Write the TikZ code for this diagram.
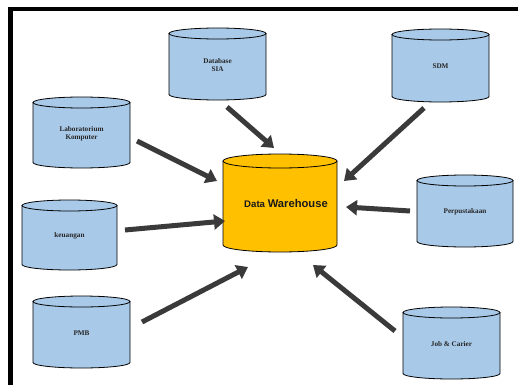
\documentclass[tikz,border=0pt]{standalone}
\usepackage{fontspec}
\setmainfont{Liberation Serif}
\newfontfamily\dwfont{Liberation Sans}
\usetikzlibrary{arrows.meta}
\definecolor{dbblue}{RGB}{168,201,232}
\definecolor{dwgold}{RGB}{255,192,0}
\definecolor{arrowgray}{RGB}{58,58,58}
\tikzset{
  dbtext/.style={font=\fontsize{7.2}{8.4}\selectfont\bfseries, align=center, text=black!85, inner sep=0pt},
  feed/.style={line width=5pt, draw=arrowgray, -{Triangle[length=11pt,width=15pt]}},
  frameline/.style={line width=4.5pt, draw=black},
}
% name, x1, x2, ytop, ybot, fill, ry, text
\newcommand\dbcyl[8]{%
  \pgfmathsetmacro\cylrx{(#3-#2)/2}%
  \fill[#6] (#2,#4+#7) -- (#2,#5-#7) arc[start angle=180,end angle=360,x radius=\cylrx pt,y radius=#7pt] -- (#3,#4+#7) -- cycle;
  \draw[line width=0.8pt] (#2,#4+#7) -- (#2,#5-#7) arc[start angle=180,end angle=360,x radius=\cylrx pt,y radius=#7pt] -- (#3,#4+#7);
  \draw[line width=0.8pt, fill=#6] ({(#2+#3)/2},#4+#7) ellipse[x radius=\cylrx pt, y radius=#7pt];
  \node[dbtext] (#1) at ({(#2+#3)/2},{(#4+#5)/2+1}) {#8};
}
\begin{document}
\begin{tikzpicture}[x=1pt,y=-1pt]
\useasboundingbox (0,0) rectangle (518,385);
% frame
\draw[frameline] (10.5,385) -- (10.5,9) -- (518,9);

\dbcyl{sia}{169}{266}{28}{100}{dbblue}{5.5}{Database\\SIA}
\dbcyl{sdm}{392}{489}{29}{102}{dbblue}{5.5}{SDM}
\dbcyl{lab}{33}{130}{97}{168}{dbblue}{5.5}{Laboratorium\\Komputer}
\dbcyl{keu}{22}{117}{200}{270}{dbblue}{5.5}{keuangan}
\dbcyl{pmb}{33}{130}{296}{368}{dbblue}{5.5}{PMB}
\dbcyl{job}{403}{500}{307}{379}{dbblue}{5.5}{Job \& Carier}
\dbcyl{perp}{417}{513}{175}{247}{dbblue}{5.5}{Perpustakaan}

% data warehouse
\fill[dwgold] (223,161) -- (223,245) arc[start angle=180,end angle=360,x radius=57pt,y radius=7pt] -- (337,161) -- cycle;
\draw[line width=0.8pt] (223,161) -- (223,245) arc[start angle=180,end angle=360,x radius=57pt,y radius=7pt] -- (337,161);
\draw[line width=0.8pt, fill=dwgold] (280,161) ellipse[x radius=57pt, y radius=7pt];
\node[font=\dwfont\bfseries, text=black!90, inner sep=0pt] (dw) at (286,203) {{\fontsize{9.6}{11}\selectfont Data} {\fontsize{11.2}{13}\selectfont Warehouse}};

% arrow end points
\coordinate (siaA) at (227,107); \coordinate (siaB) at (274,148);
\coordinate (sdmA) at (424,108); \coordinate (sdmB) at (344,181);
\coordinate (labA) at (137,141); \coordinate (labB) at (217,181);
\coordinate (keuA) at (125,230); \coordinate (keuB) at (225,221);
\coordinate (perpA) at (410,211); \coordinate (perpB) at (346,207);
\coordinate (pmbA) at (142,322); \coordinate (pmbB) at (248,267);
\coordinate (jobA) at (395,331); \coordinate (jobB) at (313,265);

\draw[feed] (siaA) -- (siaB);
\draw[feed] (sdmA) -- (sdmB);
\draw[feed] (labA) -- (labB);
\draw[feed] (keuA) -- (keuB);
\draw[feed] (perpA) -- (perpB);
\draw[feed] (pmbA) -- (pmbB);
\draw[feed] (jobA) -- (jobB);
\end{tikzpicture}
\end{document}
